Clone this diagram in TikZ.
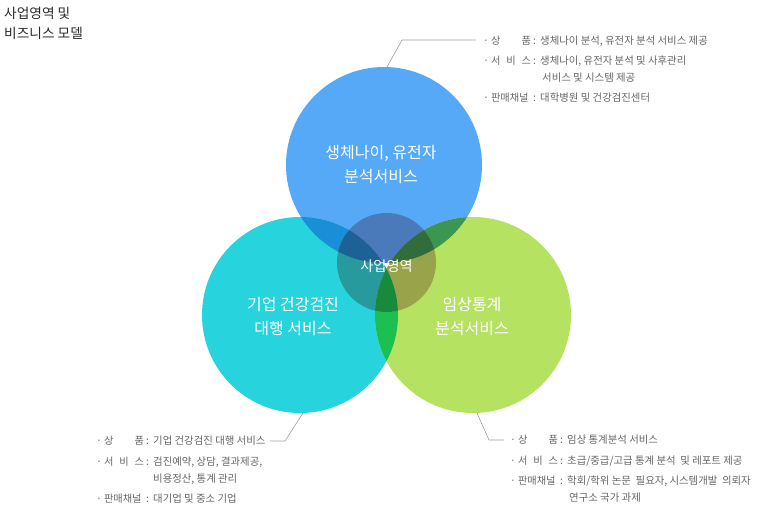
\documentclass[tikz,border=0pt]{standalone}
\usepackage{fontspec}
\setmainfont{Noto Sans CJK KR}
\definecolor{cB}{HTML}{56A9F6}
\definecolor{cC}{HTML}{27D3DD}
\definecolor{cG}{HTML}{B6E262}
\definecolor{cBC}{HTML}{1A8FD8}
\definecolor{cBG}{HTML}{3A9650}
\definecolor{cCG}{HTML}{1DC050}
\definecolor{dB}{HTML}{4A7AB9}
\definecolor{dC}{HTML}{279A9E}
\definecolor{dG}{HTML}{99A34A}
\definecolor{dBC}{HTML}{1C6296}
\definecolor{dBG}{HTML}{316C3C}
\definecolor{dCG}{HTML}{188A3C}
\definecolor{infotext}{HTML}{666666}
\definecolor{leader}{HTML}{A0A0A0}
\definecolor{titletext}{HTML}{2A2A2A}
\tikzset{
  info/.style={anchor=base west, inner sep=0pt, text=infotext, font=\fontsize{10.4}{12}\selectfont},
  bigtext/.style={align=center, text=white, inner sep=0pt, font=\fontsize{16}{24}\selectfont},
  leaderline/.style={draw=leader, line width=0.6pt},
}
\newcommand\vennfill[6]{%
  \fill[#1] (cb) circle[radius=98pt];
  \fill[#2] (cc) circle[radius=98pt];
  \fill[#3] (cg) circle[radius=98pt];
  \begin{scope}\clip (cb) circle[radius=98pt]; \fill[#4] (cc) circle[radius=98pt];\end{scope}
  \begin{scope}\clip (cb) circle[radius=98pt]; \fill[#5] (cg) circle[radius=98pt];\end{scope}
  \begin{scope}\clip (cc) circle[radius=98pt]; \fill[#6] (cg) circle[radius=98pt];\end{scope}
}
\newcommand\infoln[7]{%
  \node[info] (#1l) at (#2,#3) {·\hspace{2pt}{\fontsize{10.2}{12}\selectfont\makebox[40pt][s]{#4}}\hspace{2pt}:};
  \node[info] (#1c) at (#5,#3) {#6#7};
}
\begin{document}
\begin{tikzpicture}[x=1pt,y=-1pt]
\useasboundingbox[fill=white] (0,0) rectangle (759,512);
\coordinate (cb) at (384,165);
\coordinate (cc) at (300,315);
\coordinate (cg) at (473,315);
\coordinate (cm) at (386.5,262.5);
% circles
\vennfill{cB}{cC}{cG}{cBC}{cBG}{cCG}
\begin{scope}
  \clip (cm) circle[radius=49.5pt];
  \vennfill{dB}{dC}{dG}{dBC}{dBG}{dCG}
\end{scope}
% circle texts
\node[bigtext] (tB) at (381,165) {생체나이, 유전자\\분석서비스};
\node[bigtext] (tC) at (293,317) {기업 건강검진\\대행 서비스};
\node[bigtext] (tG) at (472,317) {임상통계\\분석서비스};
\node[text=white, inner sep=0pt, font=\fontsize{14.2}{16}\selectfont] (tM) at (386.5,266) {사업영역};
% title
\node[anchor=north west, align=left, inner sep=0pt, text=titletext, font=\fontsize{13.7}{20.5}\selectfont] (title) at (4,6.5) {사업영역 및\\비즈니스 모델};
% leader lines
\coordinate (tl1) at (387,67);
\coordinate (tl2) at (402,40);
\coordinate (tl3) at (476,40);
\draw[leaderline] (tl1) -- (tl2) -- (tl3);
\coordinate (bl1) at (303,413);
\coordinate (bl2) at (285,441);
\coordinate (bl3) at (270,441);
\draw[leaderline] (bl1) -- (bl2) -- (bl3);
\coordinate (br1) at (477,413);
\coordinate (br2) at (489,440);
\coordinate (br3) at (504,440);
\draw[leaderline] (br1) -- (br2) -- (br3);
% top info block
\infoln{ta}{483}{44}{상\hfill 품}{540}{생체나이 분석, 유전자 분석 서비스 제공}{}
\infoln{tb}{483}{64}{서\hfill 비\hfill 스}{540}{생체나이, 유전자 분석 및 사후관리}{}
\node[info] (tbc) at (542,81) {서비스 및 시스템 제공};
\infoln{td}{483}{101}{판매채널}{540}{대학병원 및 건강검진센터}{}
% bottom-left info block
\infoln{la}{96}{444.5}{상\hfill 품}{153}{기업 건강검진 대행 서비스}{}
\infoln{lb}{96}{465.5}{서\hfill 비\hfill 스}{153}{검진예약, 상담, 결과제공,}{}
\node[info] (lbc) at (153,482) {비용정산, 통계 관리};
\infoln{ld}{96}{502}{판매채널}{153}{대기업 및 중소 기업}{}
% bottom-right info block
\infoln{ra}{510}{443.5}{상\hfill 품}{567}{임상 통계분석 서비스}{}
\infoln{rb}{510}{464}{서\hfill 비\hfill 스}{567}{초급/중급/고급 통계 분석 \ 및 레포트 제공}{}
\infoln{rd}{510}{484}{판매채널}{567}{학회/학위 논문 \ 필요자, 시스템개발 \ 의뢰자}{}
\node[info] (rdc) at (569,501.5) {연구소 국가 과제};
\end{tikzpicture}
\end{document}
